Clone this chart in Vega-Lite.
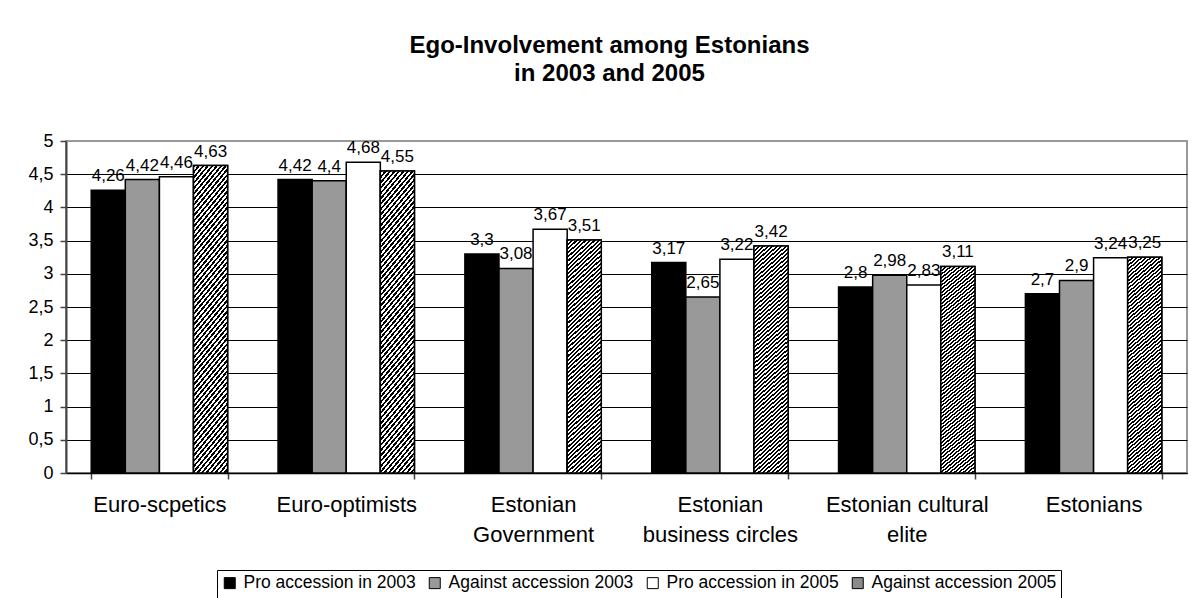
{
 "$schema": "https://vega.github.io/schema/vega-lite/v6.json",
 "width": 1121,
 "height": 332,
 "autosize": {"type": "none"},
 "padding": {"left": 66, "top": 141, "right": 11, "bottom": 125},
 "background": "white",
 "title": {"text": ["Ego-Involvement among Estonians", "in 2003 and 2005"], "fontSize": 24, "fontWeight": "bold", "font": "Liberation Sans", "color": "black", "lineHeight": 28, "anchor": "middle", "dx": -17, "offset": 46},
 "data": {"values": [
  {"group": "Euro-scpetics", "series": "Pro accession in 2003", "value": 4.26},
  {"group": "Euro-scpetics", "series": "Against accession 2003", "value": 4.42},
  {"group": "Euro-scpetics", "series": "Pro accession in 2005", "value": 4.46},
  {"group": "Euro-scpetics", "series": "Against accession 2005", "value": 4.63},
  {"group": "Euro-optimists", "series": "Pro accession in 2003", "value": 4.42},
  {"group": "Euro-optimists", "series": "Against accession 2003", "value": 4.4},
  {"group": "Euro-optimists", "series": "Pro accession in 2005", "value": 4.68},
  {"group": "Euro-optimists", "series": "Against accession 2005", "value": 4.55},
  {"group": "Estonian Government", "series": "Pro accession in 2003", "value": 3.3},
  {"group": "Estonian Government", "series": "Against accession 2003", "value": 3.08},
  {"group": "Estonian Government", "series": "Pro accession in 2005", "value": 3.67},
  {"group": "Estonian Government", "series": "Against accession 2005", "value": 3.51},
  {"group": "Estonian business circles", "series": "Pro accession in 2003", "value": 3.17},
  {"group": "Estonian business circles", "series": "Against accession 2003", "value": 2.65},
  {"group": "Estonian business circles", "series": "Pro accession in 2005", "value": 3.22},
  {"group": "Estonian business circles", "series": "Against accession 2005", "value": 3.42},
  {"group": "Estonian cultural elite", "series": "Pro accession in 2003", "value": 2.8},
  {"group": "Estonian cultural elite", "series": "Against accession 2003", "value": 2.98},
  {"group": "Estonian cultural elite", "series": "Pro accession in 2005", "value": 2.83},
  {"group": "Estonian cultural elite", "series": "Against accession 2005", "value": 3.11},
  {"group": "Estonians", "series": "Pro accession in 2003", "value": 2.7},
  {"group": "Estonians", "series": "Against accession 2003", "value": 2.9},
  {"group": "Estonians", "series": "Pro accession in 2005", "value": 3.24},
  {"group": "Estonians", "series": "Against accession 2005", "value": 3.25}
 ]},
 "encoding": {
  "x": {"field": "group", "type": "nominal", "sort": null,
   "scale": {"domain": ["Euro-scpetics", "Euro-optimists", "Estonian Government", "Estonian business circles", "Estonian cultural elite", "Estonians"], "paddingInner": 0.27, "paddingOuter": 0.135},
   "axis": {"title": null, "labelAngle": 0, "labelFontSize": 22, "labelColor": "black", "labelPadding": 15, "labelLineHeight": 30, "labelLimit": 400, "tickBand": "extent", "tickSize": 6, "tickColor": "#444", "tickWidth": 1.5, "domainColor": "#000", "domainWidth": 1.5,
    "labelExpr": "datum.label == 'Estonian Government' ? ['Estonian', 'Government'] : datum.label == 'Estonian business circles' ? ['Estonian', 'business circles'] : datum.label == 'Estonian cultural elite' ? ['Estonian cultural', 'elite'] : datum.label"}},
  "xOffset": {"field": "series", "type": "nominal", "sort": null, "scale": {"domain": ["Pro accession in 2003", "Against accession 2003", "Pro accession in 2005", "Against accession 2005"], "paddingInner": 0, "paddingOuter": 0}},
  "y": {"field": "value", "type": "quantitative", "scale": {"domain": [0, 5], "nice": false},
   "axis": {"title": null, "values": [0, 0.5, 1, 1.5, 2, 2.5, 3, 3.5, 4, 4.5, 5], "format": ".1~f", "labelFontSize": 18, "labelColor": "black", "labelPadding": 7, "tickSize": 6, "tickColor": "#444", "tickWidth": 1.5, "domainColor": "#444", "domainWidth": 2, "grid": true, "gridColor": {"condition": {"test": "datum.value >= 5", "value": "#999"}, "value": "#000"}, "gridWidth": 1}}
 },
 "layer": [
  {"mark": {"type": "bar", "stroke": "black", "strokeWidth": 1.5},
   "encoding": {"color": {"field": "series", "type": "nominal", "sort": null,
    "scale": {"domain": ["Pro accession in 2003", "Against accession 2003", "Pro accession in 2005", "Against accession 2005"], "range": ["#000000", "#999999", "#ffffff", "#8a8a8a"]},
    "legend": {"title": " ", "titleOrient": "bottom", "titleFontSize": 10, "titlePadding": 0, "orient": "none", "legendX": 151, "legendY": 429, "direction": "horizontal", "strokeColor": "black", "padding": 4, "symbolType": "square", "symbolSize": 121, "symbolStrokeColor": "black", "symbolStrokeWidth": 1, "symbolOpacity": 1, "labelFontSize": 17.5, "labelColor": "black", "labelOffset": 5, "columnPadding": 10, "labelLimit": 400}}}},
  {"transform": [{"filter": "datum.series === 'Against accession 2005'"}],
   "mark": {"type": "bar", "stroke": "black", "strokeWidth": 1.5, "fill": {"gradient": "linear", "x1": 0, "y1": 0, "x2": 0.1504, "y2": 1.1146, "stops": [
    {"offset": 0, "color": "#000"}, {"offset": 0.0078125, "color": "#000"}, {"offset": 0.0078125, "color": "#fff"}, {"offset": 0.015625, "color": "#fff"},
    {"offset": 0.015625, "color": "#000"}, {"offset": 0.0234375, "color": "#000"}, {"offset": 0.0234375, "color": "#fff"}, {"offset": 0.03125, "color": "#fff"},
    {"offset": 0.03125, "color": "#000"}, {"offset": 0.0390625, "color": "#000"}, {"offset": 0.0390625, "color": "#fff"}, {"offset": 0.046875, "color": "#fff"},
    {"offset": 0.046875, "color": "#000"}, {"offset": 0.0546875, "color": "#000"}, {"offset": 0.0546875, "color": "#fff"}, {"offset": 0.0625, "color": "#fff"},
    {"offset": 0.0625, "color": "#000"}, {"offset": 0.0703125, "color": "#000"}, {"offset": 0.0703125, "color": "#fff"}, {"offset": 0.078125, "color": "#fff"},
    {"offset": 0.078125, "color": "#000"}, {"offset": 0.0859375, "color": "#000"}, {"offset": 0.0859375, "color": "#fff"}, {"offset": 0.09375, "color": "#fff"},
    {"offset": 0.09375, "color": "#000"}, {"offset": 0.1015625, "color": "#000"}, {"offset": 0.1015625, "color": "#fff"}, {"offset": 0.109375, "color": "#fff"},
    {"offset": 0.109375, "color": "#000"}, {"offset": 0.1171875, "color": "#000"}, {"offset": 0.1171875, "color": "#fff"}, {"offset": 0.125, "color": "#fff"},
    {"offset": 0.125, "color": "#000"}, {"offset": 0.1328125, "color": "#000"}, {"offset": 0.1328125, "color": "#fff"}, {"offset": 0.140625, "color": "#fff"},
    {"offset": 0.140625, "color": "#000"}, {"offset": 0.1484375, "color": "#000"}, {"offset": 0.1484375, "color": "#fff"}, {"offset": 0.15625, "color": "#fff"},
    {"offset": 0.15625, "color": "#000"}, {"offset": 0.1640625, "color": "#000"}, {"offset": 0.1640625, "color": "#fff"}, {"offset": 0.171875, "color": "#fff"},
    {"offset": 0.171875, "color": "#000"}, {"offset": 0.1796875, "color": "#000"}, {"offset": 0.1796875, "color": "#fff"}, {"offset": 0.1875, "color": "#fff"},
    {"offset": 0.1875, "color": "#000"}, {"offset": 0.1953125, "color": "#000"}, {"offset": 0.1953125, "color": "#fff"}, {"offset": 0.203125, "color": "#fff"},
    {"offset": 0.203125, "color": "#000"}, {"offset": 0.2109375, "color": "#000"}, {"offset": 0.2109375, "color": "#fff"}, {"offset": 0.21875, "color": "#fff"},
    {"offset": 0.21875, "color": "#000"}, {"offset": 0.2265625, "color": "#000"}, {"offset": 0.2265625, "color": "#fff"}, {"offset": 0.234375, "color": "#fff"},
    {"offset": 0.234375, "color": "#000"}, {"offset": 0.2421875, "color": "#000"}, {"offset": 0.2421875, "color": "#fff"}, {"offset": 0.25, "color": "#fff"},
    {"offset": 0.25, "color": "#000"}, {"offset": 0.2578125, "color": "#000"}, {"offset": 0.2578125, "color": "#fff"}, {"offset": 0.265625, "color": "#fff"},
    {"offset": 0.265625, "color": "#000"}, {"offset": 0.2734375, "color": "#000"}, {"offset": 0.2734375, "color": "#fff"}, {"offset": 0.28125, "color": "#fff"},
    {"offset": 0.28125, "color": "#000"}, {"offset": 0.2890625, "color": "#000"}, {"offset": 0.2890625, "color": "#fff"}, {"offset": 0.296875, "color": "#fff"},
    {"offset": 0.296875, "color": "#000"}, {"offset": 0.3046875, "color": "#000"}, {"offset": 0.3046875, "color": "#fff"}, {"offset": 0.3125, "color": "#fff"},
    {"offset": 0.3125, "color": "#000"}, {"offset": 0.3203125, "color": "#000"}, {"offset": 0.3203125, "color": "#fff"}, {"offset": 0.328125, "color": "#fff"},
    {"offset": 0.328125, "color": "#000"}, {"offset": 0.3359375, "color": "#000"}, {"offset": 0.3359375, "color": "#fff"}, {"offset": 0.34375, "color": "#fff"},
    {"offset": 0.34375, "color": "#000"}, {"offset": 0.3515625, "color": "#000"}, {"offset": 0.3515625, "color": "#fff"}, {"offset": 0.359375, "color": "#fff"},
    {"offset": 0.359375, "color": "#000"}, {"offset": 0.3671875, "color": "#000"}, {"offset": 0.3671875, "color": "#fff"}, {"offset": 0.375, "color": "#fff"},
    {"offset": 0.375, "color": "#000"}, {"offset": 0.3828125, "color": "#000"}, {"offset": 0.3828125, "color": "#fff"}, {"offset": 0.390625, "color": "#fff"},
    {"offset": 0.390625, "color": "#000"}, {"offset": 0.3984375, "color": "#000"}, {"offset": 0.3984375, "color": "#fff"}, {"offset": 0.40625, "color": "#fff"},
    {"offset": 0.40625, "color": "#000"}, {"offset": 0.4140625, "color": "#000"}, {"offset": 0.4140625, "color": "#fff"}, {"offset": 0.421875, "color": "#fff"},
    {"offset": 0.421875, "color": "#000"}, {"offset": 0.4296875, "color": "#000"}, {"offset": 0.4296875, "color": "#fff"}, {"offset": 0.4375, "color": "#fff"},
    {"offset": 0.4375, "color": "#000"}, {"offset": 0.4453125, "color": "#000"}, {"offset": 0.4453125, "color": "#fff"}, {"offset": 0.453125, "color": "#fff"},
    {"offset": 0.453125, "color": "#000"}, {"offset": 0.4609375, "color": "#000"}, {"offset": 0.4609375, "color": "#fff"}, {"offset": 0.46875, "color": "#fff"},
    {"offset": 0.46875, "color": "#000"}, {"offset": 0.4765625, "color": "#000"}, {"offset": 0.4765625, "color": "#fff"}, {"offset": 0.484375, "color": "#fff"},
    {"offset": 0.484375, "color": "#000"}, {"offset": 0.4921875, "color": "#000"}, {"offset": 0.4921875, "color": "#fff"}, {"offset": 0.5, "color": "#fff"},
    {"offset": 0.5, "color": "#000"}, {"offset": 0.5078125, "color": "#000"}, {"offset": 0.5078125, "color": "#fff"}, {"offset": 0.515625, "color": "#fff"},
    {"offset": 0.515625, "color": "#000"}, {"offset": 0.5234375, "color": "#000"}, {"offset": 0.5234375, "color": "#fff"}, {"offset": 0.53125, "color": "#fff"},
    {"offset": 0.53125, "color": "#000"}, {"offset": 0.5390625, "color": "#000"}, {"offset": 0.5390625, "color": "#fff"}, {"offset": 0.546875, "color": "#fff"},
    {"offset": 0.546875, "color": "#000"}, {"offset": 0.5546875, "color": "#000"}, {"offset": 0.5546875, "color": "#fff"}, {"offset": 0.5625, "color": "#fff"},
    {"offset": 0.5625, "color": "#000"}, {"offset": 0.5703125, "color": "#000"}, {"offset": 0.5703125, "color": "#fff"}, {"offset": 0.578125, "color": "#fff"},
    {"offset": 0.578125, "color": "#000"}, {"offset": 0.5859375, "color": "#000"}, {"offset": 0.5859375, "color": "#fff"}, {"offset": 0.59375, "color": "#fff"},
    {"offset": 0.59375, "color": "#000"}, {"offset": 0.6015625, "color": "#000"}, {"offset": 0.6015625, "color": "#fff"}, {"offset": 0.609375, "color": "#fff"},
    {"offset": 0.609375, "color": "#000"}, {"offset": 0.6171875, "color": "#000"}, {"offset": 0.6171875, "color": "#fff"}, {"offset": 0.625, "color": "#fff"},
    {"offset": 0.625, "color": "#000"}, {"offset": 0.6328125, "color": "#000"}, {"offset": 0.6328125, "color": "#fff"}, {"offset": 0.640625, "color": "#fff"},
    {"offset": 0.640625, "color": "#000"}, {"offset": 0.6484375, "color": "#000"}, {"offset": 0.6484375, "color": "#fff"}, {"offset": 0.65625, "color": "#fff"},
    {"offset": 0.65625, "color": "#000"}, {"offset": 0.6640625, "color": "#000"}, {"offset": 0.6640625, "color": "#fff"}, {"offset": 0.671875, "color": "#fff"},
    {"offset": 0.671875, "color": "#000"}, {"offset": 0.6796875, "color": "#000"}, {"offset": 0.6796875, "color": "#fff"}, {"offset": 0.6875, "color": "#fff"},
    {"offset": 0.6875, "color": "#000"}, {"offset": 0.6953125, "color": "#000"}, {"offset": 0.6953125, "color": "#fff"}, {"offset": 0.703125, "color": "#fff"},
    {"offset": 0.703125, "color": "#000"}, {"offset": 0.7109375, "color": "#000"}, {"offset": 0.7109375, "color": "#fff"}, {"offset": 0.71875, "color": "#fff"},
    {"offset": 0.71875, "color": "#000"}, {"offset": 0.7265625, "color": "#000"}, {"offset": 0.7265625, "color": "#fff"}, {"offset": 0.734375, "color": "#fff"},
    {"offset": 0.734375, "color": "#000"}, {"offset": 0.7421875, "color": "#000"}, {"offset": 0.7421875, "color": "#fff"}, {"offset": 0.75, "color": "#fff"},
    {"offset": 0.75, "color": "#000"}, {"offset": 0.7578125, "color": "#000"}, {"offset": 0.7578125, "color": "#fff"}, {"offset": 0.765625, "color": "#fff"},
    {"offset": 0.765625, "color": "#000"}, {"offset": 0.7734375, "color": "#000"}, {"offset": 0.7734375, "color": "#fff"}, {"offset": 0.78125, "color": "#fff"},
    {"offset": 0.78125, "color": "#000"}, {"offset": 0.7890625, "color": "#000"}, {"offset": 0.7890625, "color": "#fff"}, {"offset": 0.796875, "color": "#fff"},
    {"offset": 0.796875, "color": "#000"}, {"offset": 0.8046875, "color": "#000"}, {"offset": 0.8046875, "color": "#fff"}, {"offset": 0.8125, "color": "#fff"},
    {"offset": 0.8125, "color": "#000"}, {"offset": 0.8203125, "color": "#000"}, {"offset": 0.8203125, "color": "#fff"}, {"offset": 0.828125, "color": "#fff"},
    {"offset": 0.828125, "color": "#000"}, {"offset": 0.8359375, "color": "#000"}, {"offset": 0.8359375, "color": "#fff"}, {"offset": 0.84375, "color": "#fff"},
    {"offset": 0.84375, "color": "#000"}, {"offset": 0.8515625, "color": "#000"}, {"offset": 0.8515625, "color": "#fff"}, {"offset": 0.859375, "color": "#fff"},
    {"offset": 0.859375, "color": "#000"}, {"offset": 0.8671875, "color": "#000"}, {"offset": 0.8671875, "color": "#fff"}, {"offset": 0.875, "color": "#fff"},
    {"offset": 0.875, "color": "#000"}, {"offset": 0.8828125, "color": "#000"}, {"offset": 0.8828125, "color": "#fff"}, {"offset": 0.890625, "color": "#fff"},
    {"offset": 0.890625, "color": "#000"}, {"offset": 0.8984375, "color": "#000"}, {"offset": 0.8984375, "color": "#fff"}, {"offset": 0.90625, "color": "#fff"},
    {"offset": 0.90625, "color": "#000"}, {"offset": 0.9140625, "color": "#000"}, {"offset": 0.9140625, "color": "#fff"}, {"offset": 0.921875, "color": "#fff"},
    {"offset": 0.921875, "color": "#000"}, {"offset": 0.9296875, "color": "#000"}, {"offset": 0.9296875, "color": "#fff"}, {"offset": 0.9375, "color": "#fff"},
    {"offset": 0.9375, "color": "#000"}, {"offset": 0.9453125, "color": "#000"}, {"offset": 0.9453125, "color": "#fff"}, {"offset": 0.953125, "color": "#fff"},
    {"offset": 0.953125, "color": "#000"}, {"offset": 0.9609375, "color": "#000"}, {"offset": 0.9609375, "color": "#fff"}, {"offset": 0.96875, "color": "#fff"},
    {"offset": 0.96875, "color": "#000"}, {"offset": 0.9765625, "color": "#000"}, {"offset": 0.9765625, "color": "#fff"}, {"offset": 0.984375, "color": "#fff"},
    {"offset": 0.984375, "color": "#000"}, {"offset": 0.9921875, "color": "#000"}, {"offset": 0.9921875, "color": "#fff"}, {"offset": 1, "color": "#fff"}
   ]}}},
  {"mark": {"type": "text", "dy": -9, "fontSize": 17, "baseline": "alphabetic", "color": "black"},
   "encoding": {"text": {"field": "value", "type": "quantitative", "format": ".2~f"}}}
 ],
 "config": {
  "font": "Liberation Sans",
  "view": {"stroke": "#999999", "strokeWidth": 2},
  "locale": {"number": {"decimal": ",", "thousands": " ", "grouping": [3], "currency": ["", ""]}},
  "axis": {"labelFont": "Liberation Sans"},
  "legend": {"labelFont": "Liberation Sans"},
  "text": {"font": "Liberation Sans"}
 }
}
